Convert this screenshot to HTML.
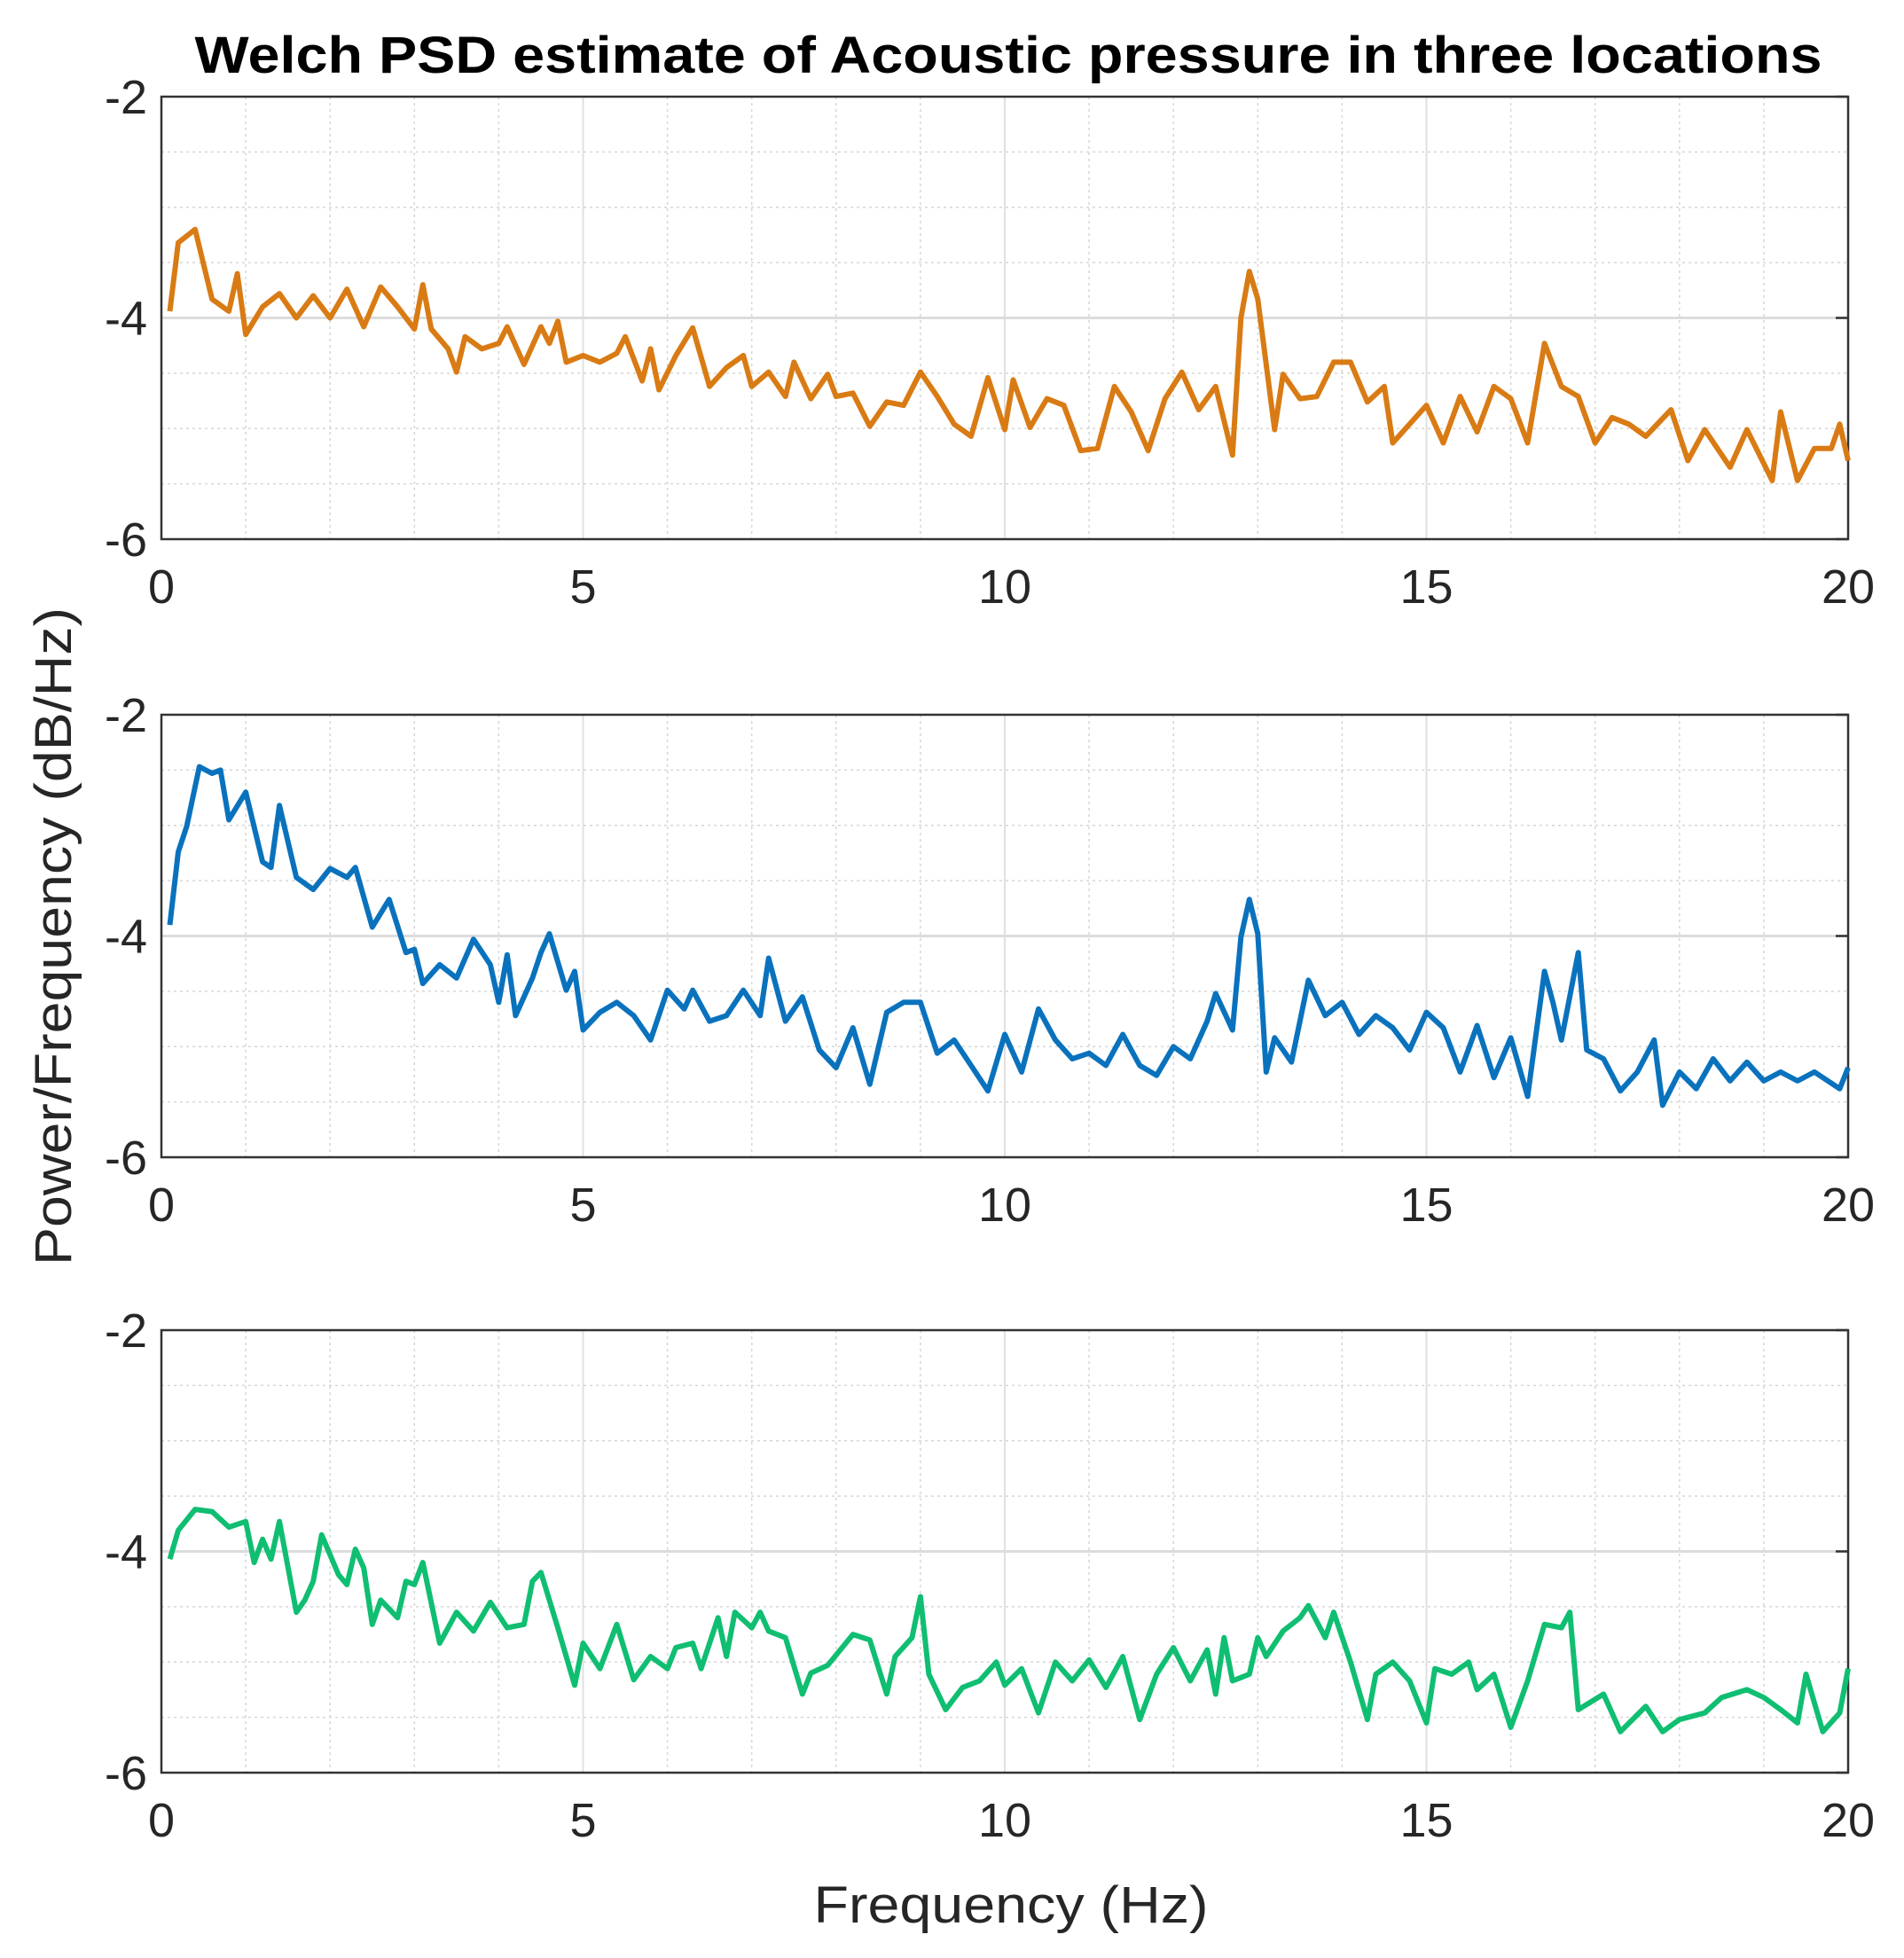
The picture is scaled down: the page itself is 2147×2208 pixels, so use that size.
<!DOCTYPE html>
<html><head><meta charset="utf-8"><style>
html,body{margin:0;padding:0;background:#fff;}
svg{display:block;font-family:"Liberation Sans",Arial,sans-serif;}
</style></head><body>
<svg id="chart" width="2147" height="2208" viewBox="0 0 2147 2208" xmlns="http://www.w3.org/2000/svg">
<rect width="2147" height="2208" fill="#fff"/>
<text x="1137" y="82" text-anchor="middle" font-size="58" font-weight="bold" textLength="1835" lengthAdjust="spacingAndGlyphs">Welch PSD estimate of Acoustic pressure in three locations</text>
<text transform="translate(80,1056) rotate(-90)" text-anchor="middle" font-size="58" fill="#262626" textLength="742" lengthAdjust="spacingAndGlyphs">Power/Frequency (dB/Hz)</text>
<text x="1140" y="2168" text-anchor="middle" font-size="58" fill="#262626" textLength="445" lengthAdjust="spacingAndGlyphs">Frequency (Hz)</text>
<g id="plots"></g>
</svg>
<script>
const freq1 = [0.1,0.2,0.4,0.6,0.8,0.9,1.0,1.2,1.4,1.6,1.8,2.0,2.2,2.4,2.6,2.8,3.0,3.1,3.2,3.4,3.5,3.6,3.8,4.0,4.1,4.3,4.5,4.6,4.7,4.8,5.0,5.2,5.4,5.5,5.7,5.8,5.9,6.1,6.3,6.5,6.7,6.9,7.0,7.2,7.4,7.5,7.7,7.9,8.0,8.2,8.4,8.6,8.8,9.0,9.2,9.4,9.6,9.8,10.0,10.1,10.3,10.5,10.7,10.9,11.1,11.3,11.5,11.7,11.9,12.1,12.3,12.5,12.7,12.8,12.9,13.0,13.2,13.3,13.5,13.7,13.9,14.1,14.3,14.5,14.6,14.8,15.0,15.2,15.4,15.6,15.8,16.0,16.2,16.4,16.6,16.8,17.0,17.2,17.4,17.6,17.9,18.1,18.3,18.6,18.8,19.1,19.2,19.4,19.6,19.8,19.9,20.0];
const psd1 = [-3.94,-3.32,-3.2,-3.83,-3.94,-3.6,-4.15,-3.9,-3.78,-4.0,-3.8,-4.0,-3.74,-4.08,-3.72,-3.9,-4.1,-3.7,-4.1,-4.28,-4.49,-4.17,-4.28,-4.23,-4.08,-4.42,-4.08,-4.23,-4.03,-4.4,-4.34,-4.4,-4.32,-4.17,-4.57,-4.28,-4.65,-4.34,-4.09,-4.62,-4.45,-4.34,-4.62,-4.49,-4.71,-4.4,-4.73,-4.51,-4.71,-4.68,-4.98,-4.76,-4.79,-4.49,-4.71,-4.96,-5.07,-4.54,-5.01,-4.56,-4.99,-4.73,-4.79,-5.2,-5.18,-4.62,-4.85,-5.2,-4.73,-4.49,-4.83,-4.62,-5.24,-4.0,-3.58,-3.83,-5.01,-4.51,-4.73,-4.71,-4.4,-4.4,-4.76,-4.62,-5.13,-4.96,-4.79,-5.13,-4.71,-5.03,-4.62,-4.73,-5.13,-4.23,-4.62,-4.71,-5.13,-4.9,-4.96,-5.07,-4.83,-5.29,-5.01,-5.35,-5.01,-5.47,-4.85,-5.47,-5.18,-5.18,-4.96,-5.29];
const freq2 = [0.1,0.2,0.3,0.45,0.6,0.7,0.8,1.0,1.2,1.3,1.4,1.6,1.8,2.0,2.2,2.3,2.5,2.7,2.9,3.0,3.1,3.3,3.5,3.7,3.9,4.0,4.1,4.2,4.4,4.5,4.6,4.8,4.9,5.0,5.2,5.4,5.6,5.8,6.0,6.2,6.3,6.5,6.7,6.9,7.1,7.2,7.4,7.6,7.8,8.0,8.2,8.4,8.6,8.8,9.0,9.2,9.4,9.6,9.8,10.0,10.2,10.4,10.6,10.8,11.0,11.2,11.4,11.6,11.8,12.0,12.2,12.4,12.5,12.7,12.8,12.9,13.0,13.1,13.2,13.4,13.6,13.8,14.0,14.2,14.4,14.6,14.8,15.0,15.2,15.4,15.6,15.8,16.0,16.2,16.4,16.5,16.6,16.8,16.9,17.1,17.3,17.5,17.7,17.8,18.0,18.2,18.4,18.6,18.8,19.0,19.2,19.4,19.6,19.9,20.0];
const psd2 = [-3.9,-3.24,-3.01,-2.47,-2.53,-2.5,-2.95,-2.7,-3.33,-3.38,-2.82,-3.47,-3.58,-3.39,-3.47,-3.38,-3.92,-3.67,-4.15,-4.12,-4.43,-4.26,-4.38,-4.03,-4.26,-4.6,-4.17,-4.72,-4.38,-4.15,-3.98,-4.49,-4.32,-4.85,-4.69,-4.6,-4.72,-4.94,-4.49,-4.66,-4.49,-4.77,-4.72,-4.49,-4.72,-4.2,-4.77,-4.55,-5.03,-5.19,-4.83,-5.34,-4.69,-4.6,-4.6,-5.06,-4.94,-5.17,-5.4,-4.89,-5.23,-4.66,-4.94,-5.11,-5.06,-5.17,-4.89,-5.17,-5.26,-5.0,-5.11,-4.77,-4.52,-4.85,-4.01,-3.67,-3.98,-5.23,-4.92,-5.14,-4.4,-4.72,-4.6,-4.89,-4.72,-4.83,-5.03,-4.69,-4.83,-5.23,-4.81,-5.28,-4.92,-5.45,-4.32,-4.6,-4.94,-4.15,-5.03,-5.11,-5.4,-5.23,-4.94,-5.53,-5.23,-5.38,-5.11,-5.31,-5.14,-5.31,-5.23,-5.31,-5.23,-5.38,-5.19];
const freq3 = [0.1,0.2,0.4,0.6,0.8,1.0,1.1,1.2,1.3,1.4,1.6,1.7,1.8,1.9,2.1,2.2,2.3,2.4,2.5,2.6,2.8,2.9,3.0,3.1,3.3,3.5,3.7,3.9,4.1,4.3,4.4,4.5,4.7,4.9,5.0,5.2,5.4,5.6,5.8,6.0,6.1,6.3,6.4,6.6,6.7,6.8,7.0,7.1,7.2,7.4,7.6,7.7,7.9,8.2,8.4,8.6,8.7,8.9,9.0,9.1,9.3,9.5,9.7,9.9,10.0,10.2,10.4,10.6,10.8,11.0,11.2,11.4,11.6,11.8,12.0,12.2,12.4,12.5,12.6,12.7,12.9,13.0,13.1,13.3,13.5,13.6,13.8,13.9,14.1,14.3,14.4,14.6,14.8,15.0,15.1,15.3,15.5,15.6,15.8,16.0,16.2,16.4,16.6,16.7,16.8,17.1,17.3,17.6,17.8,18.0,18.3,18.5,18.8,19.0,19.2,19.4,19.5,19.7,19.9,20.0];
const psd3 = [-4.07,-3.81,-3.62,-3.64,-3.78,-3.73,-4.1,-3.89,-4.07,-3.73,-4.55,-4.44,-4.27,-3.85,-4.21,-4.3,-3.98,-4.15,-4.66,-4.44,-4.6,-4.27,-4.3,-4.1,-4.83,-4.55,-4.72,-4.46,-4.69,-4.66,-4.27,-4.19,-4.69,-5.21,-4.83,-5.06,-4.66,-5.16,-4.95,-5.06,-4.87,-4.83,-5.06,-4.6,-4.95,-4.55,-4.69,-4.55,-4.72,-4.78,-5.29,-5.1,-5.03,-4.75,-4.8,-5.29,-4.95,-4.78,-4.41,-5.11,-5.43,-5.23,-5.17,-5.0,-5.21,-5.06,-5.46,-5.0,-5.17,-4.98,-5.23,-4.95,-5.52,-5.11,-4.87,-5.17,-4.89,-5.29,-4.78,-5.17,-5.11,-4.78,-4.95,-4.72,-4.6,-4.49,-4.78,-4.55,-5.0,-5.52,-5.11,-5.0,-5.17,-5.55,-5.06,-5.11,-5.0,-5.25,-5.11,-5.59,-5.17,-4.66,-4.69,-4.55,-5.43,-5.29,-5.63,-5.4,-5.63,-5.52,-5.46,-5.32,-5.25,-5.32,-5.43,-5.55,-5.11,-5.63,-5.46,-5.06];
const xTicks = [0,5,10,15,20];
const yTicks = [-2,-4,-6];

const NS = "http://www.w3.org/2000/svg";
const root = document.getElementById('plots');
const X0 = 182, X1 = 2084, H = 499;
const tops = [109, 806, 1500];
const colors = ['#d97b14', '#0a72bd', '#10be72'];
const series = [[freq1, psd1], [freq2, psd2], [freq3, psd3]];
function mk(tag, attrs, parent) {
  const e = document.createElementNS(NS, tag);
  for (const k in attrs) e.setAttribute(k, attrs[k]);
  parent.appendChild(e);
  return e;
}
series.forEach((s, i) => {
  const top = tops[i];
  const xs = f => X0 + (f - 0) / 20 * (X1 - X0);
  const ys = v => top + (-2 - v) / 4 * H;
  const g = mk('g', {}, root);
  
  
  for (let f = 1; f < 20; f++) {
    if (f % 5 === 0) continue;
    mk('line', {x1: xs(f), x2: xs(f), y1: top, y2: top + H, stroke: '#d6d6d6', 'stroke-width': 1.5, 'stroke-dasharray': '3 4'}, g);
  }
  for (let v = -2.5; v > -6; v -= 0.5) {
    if (Math.abs(v + 4) < 0.01) continue;
    mk('line', {x1: X0, x2: X1, y1: ys(v), y2: ys(v), stroke: '#d6d6d6', 'stroke-width': 1.5, 'stroke-dasharray': '3 4'}, g);
  }
  xTicks.slice(1, -1).forEach(f => {
    mk('line', {x1: xs(f), x2: xs(f), y1: top, y2: top + H, stroke: '#e0e0e0', 'stroke-width': 2}, g);
  });
  mk('line', {x1: X0, x2: X1, y1: ys(-4), y2: ys(-4), stroke: '#dcdcdc', 'stroke-width': 3}, g);
  const box = mk('rect', {x: X0, y: top, width: X1 - X0, height: H, fill: 'none', stroke: '#333', 'stroke-width': 2.5}, g);
  
  
  xTicks.forEach(f => {
    const t = mk('text', {x: xs(f), y: top + H + 72, 'text-anchor': 'middle', 'font-size': 54, fill: '#262626'}, g);
    t.textContent = f;
    
    
  });
  yTicks.forEach(v => {
    const t = mk('text', {x: X0 - 16, y: ys(v) + 19, 'text-anchor': 'end', 'font-size': 54, fill: '#262626'}, g);
    t.textContent = v;
    
    
    mk('line', {x1: X1 - 14, x2: X1, y1: ys(v), y2: ys(v), stroke: '#333', 'stroke-width': 2.5}, g);
  });
  const d = s[0].map((f, k) => (k ? 'L' : 'M') + xs(f).toFixed(1) + ',' + ys(s[1][k]).toFixed(1)).join(' ');
  const p = mk('path', {d: d, fill: 'none', stroke: colors[i], 'stroke-width': 6, 'stroke-linejoin': 'round'}, g);
  
  
});
</script>
</body></html>
